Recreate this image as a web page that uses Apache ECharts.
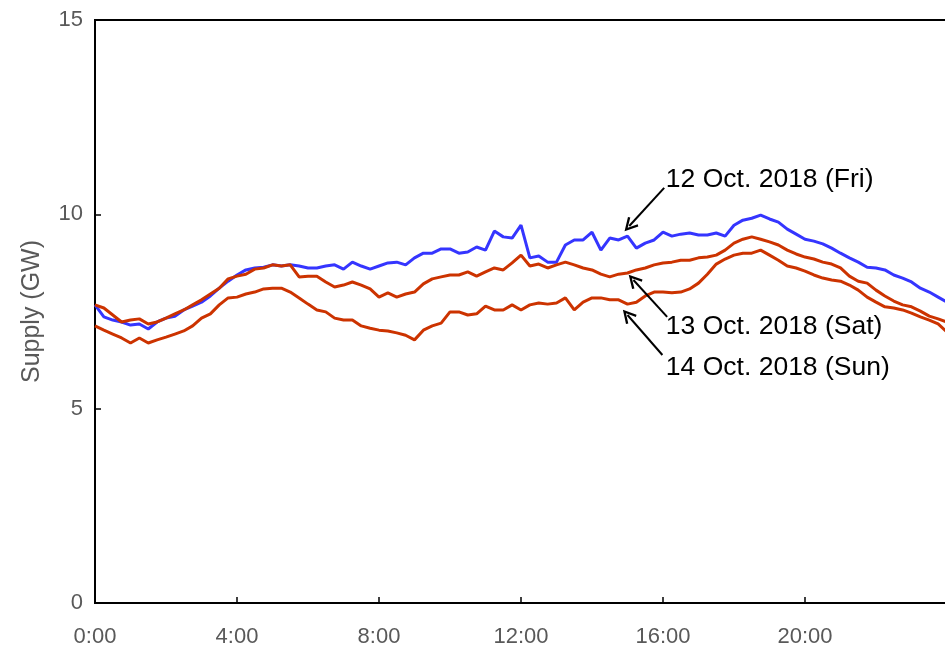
<!DOCTYPE html>
<html>
<head>
<meta charset="utf-8">
<title>Supply</title>
<script src="https://cdn.jsdelivr.net/npm/echarts@6/dist/echarts.min.js"></script>
<style>
  html, body { margin: 0; padding: 0; background: #fff; }
  #chart { width: 945px; height: 647px; }
</style>
</head>
<body>
<div id="chart"></div>
<script>
// supply in GW, one value every 15 minutes from 0:00 to 24:00
const friSupply = [
  7.67, 7.36, 7.28, 7.23, 7.15, 7.18, 7.05, 7.23, 7.33, 7.38,
  7.54, 7.64, 7.74, 7.90, 8.10, 8.28, 8.44, 8.57, 8.62, 8.64,
  8.70, 8.67, 8.70, 8.67, 8.62, 8.62, 8.67, 8.70, 8.59, 8.77,
  8.67, 8.59, 8.67, 8.75, 8.77, 8.70, 8.88, 9.00, 9.00, 9.11,
  9.11, 9.00, 9.03, 9.16, 9.08, 9.57, 9.42, 9.39, 9.72, 8.88,
  8.93, 8.77, 8.77, 9.21, 9.34, 9.34, 9.54, 9.08, 9.39, 9.34,
  9.44, 9.13, 9.26, 9.34, 9.54, 9.44, 9.49, 9.52, 9.47, 9.47,
  9.52, 9.44, 9.72, 9.85, 9.90, 9.98, 9.88, 9.80, 9.62, 9.49,
  9.36, 9.31, 9.24, 9.13, 9.00, 8.88, 8.77, 8.64, 8.62, 8.57,
  8.44, 8.36, 8.26, 8.10, 8.00, 7.87, 7.74
]
const satSupply = [
  7.67, 7.59, 7.41, 7.23, 7.28, 7.31, 7.18, 7.23, 7.33, 7.44,
  7.54, 7.67, 7.80, 7.95, 8.10, 8.34, 8.41, 8.46, 8.59, 8.62,
  8.70, 8.67, 8.70, 8.39, 8.41, 8.41, 8.26, 8.13, 8.18, 8.26,
  8.18, 8.08, 7.87, 7.98, 7.87, 7.95, 8.00, 8.21, 8.34, 8.39,
  8.44, 8.44, 8.52, 8.41, 8.52, 8.62, 8.57, 8.75, 8.95, 8.67,
  8.72, 8.62, 8.70, 8.77, 8.70, 8.62, 8.57, 8.46, 8.39, 8.46,
  8.49, 8.57, 8.62, 8.70, 8.75, 8.77, 8.82, 8.82, 8.88, 8.90,
  8.95, 9.08, 9.26, 9.36, 9.42, 9.36, 9.29, 9.21, 9.08, 8.98,
  8.90, 8.85, 8.77, 8.72, 8.62, 8.41, 8.28, 8.23, 8.05, 7.90,
  7.77, 7.67, 7.62, 7.51, 7.38, 7.31, 7.23
]
const sunSupply = [
  7.13, 7.02, 6.92, 6.82, 6.69, 6.82, 6.69, 6.77, 6.84, 6.92,
  7.00, 7.13, 7.33, 7.44, 7.67, 7.85, 7.87, 7.95, 8.00, 8.08,
  8.10, 8.10, 8.00, 7.85, 7.69, 7.54, 7.49, 7.33, 7.28, 7.28,
  7.13, 7.07, 7.02, 7.00, 6.95, 6.89, 6.77, 7.02, 7.13, 7.20,
  7.49, 7.49, 7.41, 7.44, 7.64, 7.54, 7.54, 7.67, 7.54, 7.67,
  7.72, 7.69, 7.72, 7.85, 7.54, 7.74, 7.85, 7.85, 7.80, 7.80,
  7.69, 7.74, 7.90, 8.00, 8.00, 7.98, 8.00, 8.08, 8.23, 8.46,
  8.72, 8.85, 8.95, 9.00, 9.00, 9.08, 8.95, 8.82, 8.67, 8.62,
  8.54, 8.44, 8.36, 8.31, 8.28, 8.18, 8.05, 7.87, 7.74, 7.62,
  7.59, 7.54, 7.46, 7.36, 7.28, 7.18, 6.97
]
const stepMinutes = 15

// annotations (x in minutes, y in GW)
const noteTexts = ['12 Oct. 2018 (Fri)', '13 Oct. 2018 (Sat)', '14 Oct. 2018 (Sun)']
const noteAt = [[964, 10.90], [964, 7.10], [964, 6.05]]
const arrowFrom = [[962, 10.68], [967, 7.36], [959, 6.38]]
const arrowTo = [[903, 9.70], [910, 8.31], [900, 7.41]]

const font = "'Liberation Sans', Arial, sans-serif"
const grey = '#595959'
const blue = '#3535ff'
const red = '#cc3300'

// open arrow head, tip up (echarts rotates it along the line)
const arrowHead = 'path://M5,0 L10,9 L8.6,9.9 L5,3.3 L1.4,9.9 L0,9 Z'

const toPairs = (vals) => vals.map((v, i) => [i * stepMinutes, v])

const chart = echarts.init(document.getElementById('chart'))

const lineSeries = (name, vals, color) => ({
  name,
  type: 'line',
  data: toPairs(vals),
  symbol: 'none',
  lineStyle: { width: 3, color },
  itemStyle: { color },
  silent: true,
})

const sunSeries = lineSeries('14 Oct', sunSupply, red)
sunSeries.markLine = {
  silent: true,
  symbol: ['none', arrowHead],
  symbolSize: [14, 14],
  lineStyle: { color: '#000', width: 2, type: 'solid' },
  label: { show: false },
  data: arrowFrom.map((p, i) => [{ coord: p }, { coord: arrowTo[i] }]),
}
sunSeries.markPoint = {
  silent: true,
  symbol: 'circle',
  symbolSize: 1,
  itemStyle: { color: 'rgba(0,0,0,0)' },
  label: {
    show: true,
    position: 'right',
    distance: 0,
    formatter: '{b}',
    color: '#000',
    fontSize: 26.5,
    fontFamily: font,
  },
  data: noteTexts.map((t, i) => ({ name: t, coord: noteAt[i] })),
}

chart.setOption({
  animation: false,
  backgroundColor: '#fff',
  grid: {
    left: 95, right: -2, top: 20, bottom: 44,
    show: true, borderColor: '#000', borderWidth: 2,
    containLabel: false, outerBoundsMode: 'none',
  },
  xAxis: {
    type: 'value',
    min: 0, max: 1440, interval: 240,
    axisLine: { show: true, lineStyle: { color: '#000', width: 2 } },
    axisTick: { show: true, inside: true, length: 6, lineStyle: { color: '#000', width: 1.5 } },
    splitLine: { show: false },
    axisLabel: {
      color: grey, fontSize: 22, fontFamily: font, margin: 23,
      formatter: (v) => (v >= 1440 ? '' : (v / 60) + ':00'),
    },
  },
  yAxis: {
    type: 'value',
    min: 0, max: 15, interval: 5,
    name: 'Supply (GW)',
    nameLocation: 'middle',
    nameGap: 50,
    nameTextStyle: { color: grey, fontSize: 25, fontFamily: font },
    axisLine: { show: true, lineStyle: { color: '#000', width: 2 } },
    axisTick: { show: true, inside: true, length: 6, lineStyle: { color: '#000', width: 1.5 } },
    splitLine: { show: false },
    axisLabel: { color: grey, fontSize: 22, fontFamily: font, margin: 12 },
  },
  series: [
    lineSeries('12 Oct', friSupply, blue),
    lineSeries('13 Oct', satSupply, red),
    sunSeries,
  ],
})
</script>
</body>
</html>
